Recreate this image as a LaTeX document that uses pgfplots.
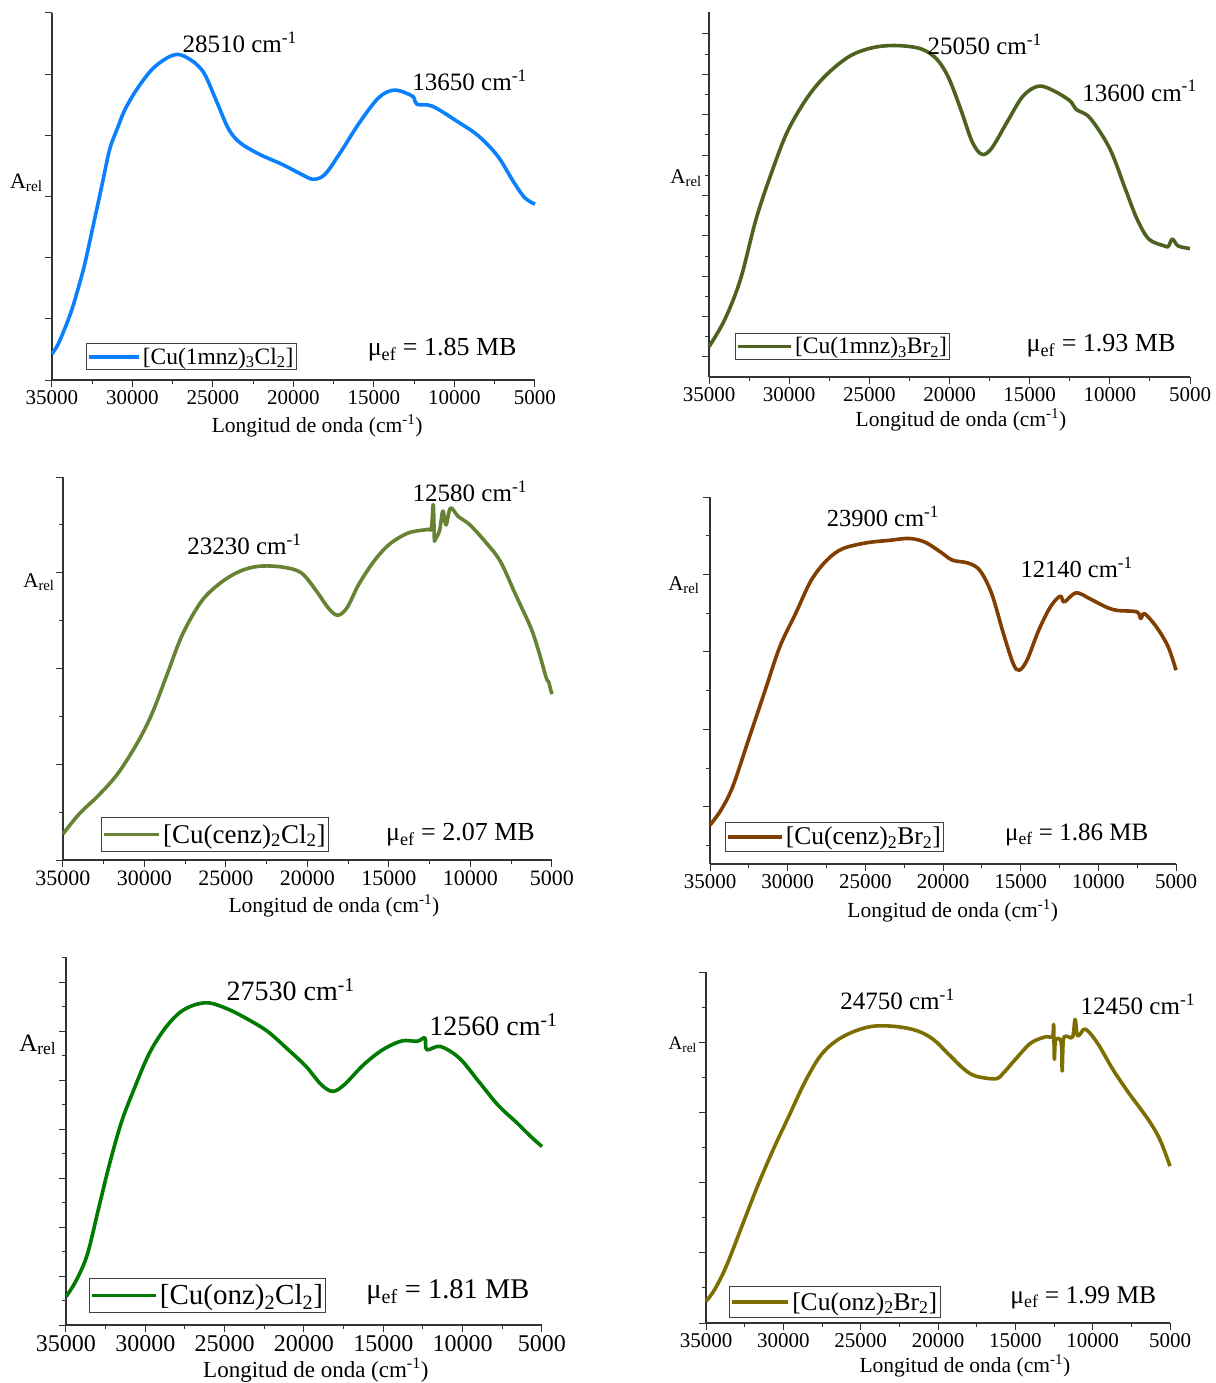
\documentclass[border=0pt]{standalone}
\usepackage{fontspec}
\setmainfont{Liberation Serif}
\usepackage{pgfplots}
\pgfplotsset{compat=1.18}
\definecolor{c1}{RGB}{10,128,255}
\definecolor{c2}{RGB}{78,98,32}
\definecolor{c3}{RGB}{102,130,50}
\definecolor{c4}{RGB}{128,62,0}
\definecolor{c5}{RGB}{0,122,0}
\definecolor{c6}{RGB}{124,110,0}
\newcommand{\fs}[1]{\fontsize{#1}{#1}\selectfont}
\newcommand{\cm}{cm\textsuperscript{-1}}
\pgfplotsset{
  panel/.style={
    scale only axis,
    anchor=south west,
    xmin=5000, xmax=35000, ymin=0, ymax=100,
    x dir=reverse,
    axis x line*=bottom, axis y line*=left,
    axis line style={-, black!80, line width=1.2pt},
    every tick/.style={black!80, line width=1pt},
    tick align=outside,
    major tick length=7pt, minor tick length=4pt,
    xtick={5000,10000,...,35000}, minor x tick num=1,
    minor y tick num=1,
    scaled x ticks=false,
    yticklabels={},
    xticklabel style={/pgf/number format/1000 sep=},
    /pgf/number format/assume math mode=true,
    clip=false,
    legend cell align=left,
    legend style={anchor=south west, draw=black!75, line width=0.9pt,
      inner xsep=1pt, row sep=0pt},
  },
  limg/.style={legend image code/.code={\draw[##1, line width=3.6pt] (0pt,0pt) -- (#1,0pt);}},
  curve/.style={line width=3.6pt, line join=round, smooth, tension=0.55, no markers},
}
\begin{document}
\begin{tikzpicture}
\path[use as bounding box] (0pt,0pt) rectangle (1215pt,-1383pt);

% ---------- Panel 1 ----------
\begin{axis}[panel, at={(52pt,-380pt)}, width=483pt, height=367pt,
  ytick={0,16.67,33.33,50,66.67,83.33,100},
  tick label style={font=\fs{21}},
  xlabel={Longitud de onda (\cm)}, xlabel style={font=\fs{21.5}, at={(axis description cs:0.549,-0.125)}, anchor=center},
  limg=50pt,
  legend style={at={(axis description cs:0.070,0.027)}, font=\fs{23.5}, inner ysep=2pt}]
\addplot[curve, c1] coordinates {
(35000,7.1)(34650,9.5)(34300,13)(33900,17.5)(33568,22)(33000,31)(32494,41)(31900,53)(31420,62.8)(30900,69)(30465,73.7)(29749,79.1)(28795,84.6)(27840,87.8)(27124,88.7)(26408,87.3)(25900,85.5)(25453,82.8)(24737,75.5)(24021,68.3)(23305,64.6)(22112,61.5)(20680,58.7)(19487,56.0)(18771,54.7)(18055,56.0)(17100,61.9)(15907,70.1)(14714,76.9)(13760,79.0)(12805,77.8)(12500,76.8)(12327,75.1)(11372,74.6)(9702,70.1)(8509,66.5)(7315,61.0)(6361,54.2)(5644,49.7)(5000,47.9)};
\addlegendentry{[Cu(1mnz)\textsubscript{3}Cl\textsubscript{2}]}
\node[anchor=east, font=\fs{26}] at (axis description cs:0.969,0.082) {μ\textsubscript{ef} = 1.85 MB};
\node[anchor=west, font=\fs{25}] at (axis description cs:0.263,0.921) {28510 \cm};
\node[anchor=west, font=\fs{25}] at (axis description cs:0.739,0.817) {13650 \cm};
\node[anchor=east, font=\fs{22}] at (axis description cs:-0.012,0.537) {A\textsubscript{rel}};
\end{axis}

% ---------- Panel 2 ----------
\begin{axis}[panel, at={(709pt,-377pt)}, width=481pt, height=365pt,
  ytick={5.5,16.56,27.62,38.68,49.74,60.8,71.86,82.92,93.98},
  tick label style={font=\fs{21}},
  xlabel={Longitud de onda (\cm)}, xlabel style={font=\fs{21.5}, at={(axis description cs:0.524,-0.118)}, anchor=center},
  limg=53pt,
  legend style={at={(axis description cs:0.054,0.047)}, font=\fs{23.5}, inner ysep=2pt}]
\addplot[curve, c2] coordinates {
(35000,8.3)(34020,15.7)(33041,26.7)(32061,43.3)(31082,56.2)(30102,67.3)(28878,76.5)(27653,82.9)(26184,88.0)(24714,90.3)(23245,90.8)(21776,89.9)(20796,87.1)(20061,82.0)(19327,73.7)(18592,64.5)(17980,61.0)(17367,62.7)(16388,70.0)(15408,77.0)(14429,79.7)(13449,78.3)(12469,75.6)(12102,73.3)(11245,71.0)(10020,62.7)(9041,51.6)(8306,43.3)(7571,37.8)(6592,35.9)(6347,35.8)(6102,37.8)(5735,35.9)(5000,35.2)};
\addlegendentry{[Cu(1mnz)\textsubscript{3}Br\textsubscript{2}]}
\node[anchor=east, font=\fs{26}] at (axis description cs:0.977,0.085) {μ\textsubscript{ef} = 1.93 MB};
\node[anchor=west, font=\fs{25}] at (axis description cs:0.447,0.912) {25050 \cm};
\node[anchor=west, font=\fs{25}] at (axis description cs:0.769,0.784) {13600 \cm};
\node[anchor=east, font=\fs{21}] at (axis description cs:-0.008,0.545) {A\textsubscript{rel}};
\end{axis}

% ---------- Panel 3 ----------
\begin{axis}[panel, at={(63pt,-860pt)}, width=489pt, height=383pt,
  ytick={0,25,50,75,100},
  tick label style={font=\fs{22}},
  xlabel={Longitud de onda (\cm)}, xlabel style={font=\fs{21.5}, at={(axis description cs:0.554,-0.120)}, anchor=center},
  limg=55pt,
  legend style={at={(axis description cs:0.078,0.021)}, font=\fs{27}, inner ysep=5pt}]
\addplot[curve, c3] coordinates {
(35000,6.8)(34013,12.0)(32839,16.8)(31664,22.4)(30490,30.2)(29550,38.1)(28610,48.5)(27670,58.9)(26496,67.6)(25321,72.4)(24147,75.4)(22972,76.7)(21563,76.5)(20388,75.0)(19448,70.2)(18743,65.9)(18156,63.9)(17569,65.9)(16864,71.9)(15924,78.0)(14985,82.4)(13810,85.4)(12635,86.3)(12400,86.6)(12283,92.8)(12220,84.0)(12166,83.7)(11900,86)(11696,91.1)(11500,87.5)(11226,91.9)(10756,89.7)(10061,87.6)(9113,83.2)(8173,78.0)(7234,69.3)(6294,60.6)(5824,54.6)(5354,47.6)(5200,46.5)(5118,45.0)(5000,43.3)};
\addlegendentry{[Cu(cenz)\textsubscript{2}Cl\textsubscript{2}]}
\node[anchor=east, font=\fs{26}] at (axis description cs:0.972,0.065) {μ\textsubscript{ef} = 2.07 MB};
\node[anchor=west, font=\fs{25}] at (axis description cs:0.247,0.825) {23230 \cm};
\node[anchor=west, font=\fs{25}] at (axis description cs:0.708,0.963) {12580 \cm};
\node[anchor=east, font=\fs{21}] at (axis description cs:-0.010,0.726) {A\textsubscript{rel}};
\end{axis}

% ---------- Panel 4 ----------
\begin{axis}[panel, at={(710pt,-864pt)}, width=466pt, height=367pt,
  ytick={15.6,36.7,57.8,78.9,100},
  minor ytick={5.05,26.15,47.25,68.35,89.45},
  tick label style={font=\fs{21}},
  xlabel={Longitud de onda (\cm)}, xlabel style={font=\fs{21.5}, at={(axis description cs:0.521,-0.128)}, anchor=center},
  limg=54pt,
  legend style={at={(axis description cs:0.032,0.033)}, font=\fs{25.5}, inner ysep=3pt}]
\addplot[curve, c4] coordinates {
(35000,10.6)(34293,14.7)(33535,21.1)(32525,33.8)(31515,46.5)(30505,59.2)(29495,68.2)(28485,77.3)(27475,82.8)(26465,85.9)(24949,87.5)(23434,88.2)(22172,88.7)(21162,87.7)(20152,85.0)(19394,82.8)(18384,82.0)(17626,80.0)(16869,73.7)(16111,62.8)(15480,54.6)(15101,52.8)(14596,55.5)(13838,63.7)(13081,70.1)(12449,73.0)(12197,71.4)(11439,73.9)(10556,72.3)(9545,70.1)(8788,69.1)(7525,68.7)(7273,66.9)(7020,68.2)(6263,64.6)(5505,59.2)(5000,52.8)};
\addlegendentry{[Cu(cenz)\textsubscript{2}Br\textsubscript{2}]}
\node[anchor=east, font=\fs{25}] at (axis description cs:0.948,0.079) {μ\textsubscript{ef} = 1.86 MB};
\node[anchor=west, font=\fs{24.5}] at (axis description cs:0.243,0.946) {23900 \cm};
\node[anchor=west, font=\fs{24.5}] at (axis description cs:0.659,0.807) {12140 \cm};
\node[anchor=east, font=\fs{21}] at (axis description cs:-0.015,0.760) {A\textsubscript{rel}};
\end{axis}

% ---------- Panel 5 ----------
\begin{axis}[panel, at={(66pt,-1325pt)}, width=476pt, height=368pt,
  ytick={0,13.3,26.6,39.9,53.2,66.5,79.8,93.1},
  minor ytick={6.65,19.95,33.25,46.55,59.85,73.15,86.45,99.75},
  tick label style={font=\fs{24}},
  xlabel={Longitud de onda (\cm)}, xlabel style={font=\fs{23}, at={(axis description cs:0.525,-0.123)}, anchor=center},
  limg=64pt,
  legend style={at={(axis description cs:0.048,0.033)}, font=\fs{29}, inner ysep=4pt}]
\addplot[curve, c5] coordinates {
(35000,7.7)(34395,11.8)(33669,19.0)(32944,31.7)(32218,44.4)(31492,55.3)(30766,63.5)(29798,73.4)(28831,80.2)(27863,84.8)(26895,87.0)(25927,87.5)(24718,85.7)(23508,83.0)(22298,79.8)(21089,75.2)(19879,70.3)(18911,65.3)(18185,63.5)(17460,65.3)(16250,70.7)(15040,74.8)(13831,77.2)(12863,77.1)(12379,78.0)(12258,74.8)(11411,75.7)(10202,72.5)(8992,66.2)(7782,59.8)(6573,54.9)(5605,50.8)(5000,48.5)};
\addlegendentry{[Cu(onz)\textsubscript{2}Cl\textsubscript{2}]}
\node[anchor=east, font=\fs{28.5}] at (axis description cs:0.981,0.090) {μ\textsubscript{ef} = 1.81 MB};
\node[anchor=west, font=\fs{28}] at (axis description cs:0.330,0.910) {27530 \cm};
\node[anchor=west, font=\fs{28}] at (axis description cs:0.756,0.815) {12560 \cm};
\node[anchor=east, font=\fs{25}] at (axis description cs:-0.013,0.761) {A\textsubscript{rel}};
\end{axis}

% ---------- Panel 6 ----------
\begin{axis}[panel, at={(706pt,-1323pt)}, width=464pt, height=351pt,
  ytick={0,20,...,100},
  tick label style={font=\fs{21}},
  xlabel={Longitud de onda (\cm)}, xlabel style={font=\fs{21.5}, at={(axis description cs:0.558,-0.1225)}, anchor=center},
  limg=56pt,
  legend style={at={(axis description cs:0.050,0.014)}, font=\fs{25.5}, inner ysep=4pt}]
\addplot[curve, c6] coordinates {
(35000,6.2)(34444,9.5)(33687,16.2)(32677,27.6)(31667,39.0)(30657,49.4)(29646,58.9)(28636,68.4)(27626,76.0)(26616,80.3)(25354,83.2)(24091,84.6)(22576,84.4)(21313,83.2)(20303,80.8)(19293,76.5)(18283,72.2)(17525,70.3)(16263,69.6)(15758,71.3)(15000,75.1)(13990,79.8)(12980,81.6)(12600,81.5)(12525,85.1)(12500,80)(12475,75.1)(12400,80.5)(12096,80.8)(12000,78)(11970,71.8)(11900,80.5)(11717,81.7)(11300,81.5)(11136,86.5)(11000,82)(10833,82.2)(10455,83.7)(9697,79.8)(8687,72.2)(7677,65.6)(6414,58.0)(5657,52.3)(5000,44.7)};
\addlegendentry{[Cu(onz)\textsubscript{2}Br\textsubscript{2}]}
\node[anchor=east, font=\fs{25.5}] at (axis description cs:0.978,0.071) {μ\textsubscript{ef} = 1.99 MB};
\node[anchor=west, font=\fs{25}] at (axis description cs:0.282,0.923) {24750 \cm};
\node[anchor=west, font=\fs{25}] at (axis description cs:0.800,0.909) {12450 \cm};
\node[anchor=east, font=\fs{19}] at (axis description cs:-0.012,0.792) {A\textsubscript{rel}};
\end{axis}
\end{tikzpicture}
\end{document}
